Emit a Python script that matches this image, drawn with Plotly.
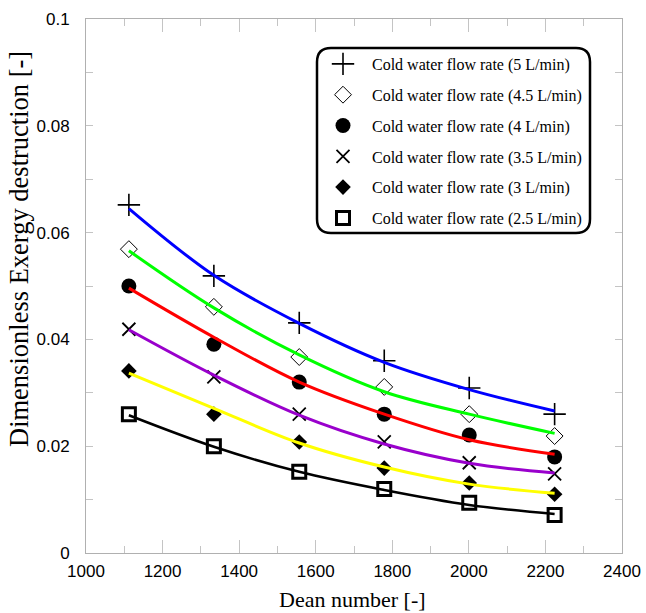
import plotly.graph_objects as go

# ---- data ----
dean = [1112, 1334, 1557, 1779, 2001, 2224]

labels = [
    "Cold water flow rate (5 L/min)",
    "Cold water flow rate (4.5 L/min)",
    "Cold water flow rate (4 L/min)",
    "Cold water flow rate (3.5 L/min)",
    "Cold water flow rate (3 L/min)",
    "Cold water flow rate (2.5 L/min)",
]

q5_0 = [0.0652, 0.0519, 0.0431, 0.0360, 0.0309, 0.0260]
q4_5 = [0.0569, 0.0461, 0.0367, 0.0311, 0.0260, 0.0219]
q4_0 = [0.0500, 0.0391, 0.0320, 0.0260, 0.0221, 0.0180]
q3_5 = [0.0419, 0.0330, 0.0260, 0.0208, 0.0169, 0.0148]
q3_0 = [0.0341, 0.0260, 0.0208, 0.0159, 0.0131, 0.0110]
q2_5 = [0.0260, 0.0200, 0.0152, 0.0120, 0.0094, 0.0071]

# fitted trend curves (values at the same Dean numbers)
fit5_0 = [0.0645, 0.0520, 0.0430, 0.0357, 0.0306, 0.0266]
fit4_5 = [0.0566, 0.0459, 0.0371, 0.0302, 0.0260, 0.0224]
fit4_0 = [0.0496, 0.0404, 0.0320, 0.0260, 0.0212, 0.0185]
fit3_5 = [0.0418, 0.0333, 0.0258, 0.0204, 0.0168, 0.0150]
fit3_0 = [0.0337, 0.0271, 0.0206, 0.0161, 0.0129, 0.0112]
fit2_5 = [0.0258, 0.0199, 0.0152, 0.0118, 0.0090, 0.0073]

x_ticks = [1000, 1200, 1400, 1600, 1800, 2000, 2200, 2400]
y_ticks = [0, 0.02, 0.04, 0.06, 0.08, 0.1]
y_ticktext = ["0", "0.02", "0.04", "0.06", "0.08", "0.1"]

series = [q5_0, q4_5, q4_0, q3_5, q3_0, q2_5]
fits = [fit5_0, fit4_5, fit4_0, fit3_5, fit3_0, fit2_5]
line_colors = ["#0000FF", "#00FF00", "#FF0000", "#9900CC", "#FFFF00", "#000000"]
line_widths = [3, 3, 3, 3, 3, 2.5]
markers = [
    dict(symbol="cross-thin", size=16, color="black", line=dict(width=1.6, color="black")),
    dict(symbol="diamond-open", size=13, color="black", line=dict(width=1, color="black")),
    dict(symbol="circle", size=15, color="black", line=dict(width=0)),
    dict(symbol="x-thin", size=13, color="black", line=dict(width=1.8, color="black")),
    dict(symbol="diamond", size=12, color="black", line=dict(width=0)),
    dict(symbol="square-open", size=13, color="black", line=dict(width=3, color="black")),
]

fig = go.Figure()

for i in range(6):
    fig.add_trace(go.Scatter(
        x=dean, y=series[i], mode="markers", name=labels[i],
        marker=markers[i], legendgroup=f"g{i}", showlegend=True,
    ))

for i in range(6):
    fig.add_trace(go.Scatter(
        x=dean, y=fits[i], mode="lines",
        line=dict(color=line_colors[i], width=line_widths[i], shape="spline", smoothing=1.0),
        showlegend=False, hoverinfo="skip",
    ))

tick_col = "#C4C4C4"
axis_col = "#B0B0B0"

fig.update_xaxes(
    range=[1000, 2400], tickvals=x_ticks, ticks="inside", ticklen=13, tickcolor=tick_col, tickwidth=1,
    minor=dict(dtick=100, tick0=1000, ticks="inside", ticklen=7, tickcolor=tick_col),
    showline=True, linecolor=axis_col, linewidth=1, mirror="ticks", showgrid=False, zeroline=False,
    automargin=False, ticklabelstandoff=3,
    tickfont=dict(family="Liberation Sans, Arial, sans-serif", size=17, color="black"),
)
fig.update_yaxes(
    range=[0, 0.1], tickvals=y_ticks, ticktext=y_ticktext, ticks="inside", ticklen=3, tickcolor=tick_col, tickwidth=1,
    minor=dict(dtick=0.01, tick0=0, ticks="inside", ticklen=7, tickcolor=tick_col),
    showline=True, linecolor=axis_col, linewidth=1, mirror="ticks", showgrid=False, zeroline=False,
    automargin=False, ticklabelstandoff=12,
    tickfont=dict(family="Liberation Sans, Arial, sans-serif", size=17, color="black"),
)

# rounded legend frame (paper coordinates; plot area is 536 x 534 px)
PW, PH = 536, 534
x0, x1 = (317 - 86) / PW, (590 - 86) / PW
y1, y0 = (553 - 48) / PH, (553 - 233) / PH
rx, ry = 14 / PW, 14 / PH
path = (f"M {x0+rx},{y1} L {x1-rx},{y1} Q {x1},{y1} {x1},{y1-ry} "
        f"L {x1},{y0+ry} Q {x1},{y0} {x1-rx},{y0} "
        f"L {x0+rx},{y0} Q {x0},{y0} {x0},{y0+ry} "
        f"L {x0},{y1-ry} Q {x0},{y1} {x0+rx},{y1} Z")
fig.add_shape(type="path", path=path, xref="paper", yref="paper",
              line=dict(color="black", width=2.5), fillcolor="white", layer="below")

fig.update_layout(
    width=646, height=613,
    margin=dict(l=86, r=24, t=19, b=60),
    paper_bgcolor="white", plot_bgcolor="white",
    showlegend=True,
    legend=dict(
        x=(314 - 86) / PW, y=(553 - 47) / PH, xanchor="left", yanchor="top",
        bgcolor="rgba(0,0,0,0)", borderwidth=0, tracegroupgap=7, itemwidth=48,
        font=dict(family="Liberation Serif, Times New Roman, serif", size=16, color="black"),
    ),
    annotations=[
        dict(text="Dean number [-]", xref="paper", yref="paper", x=0.497, y=-0.087,
             xanchor="center", yanchor="middle", showarrow=False,
             font=dict(family="Liberation Serif, Times New Roman, serif", size=22, color="black")),
        dict(text="Dimensionless Exergy destruction [-]", xref="paper", yref="paper",
             x=(19 - 86) / PW, y=(553 - 249) / PH, textangle=-90,
             xanchor="center", yanchor="middle", showarrow=False,
             font=dict(family="Liberation Serif, Times New Roman, serif", size=26.5, color="black")),
    ],
)

# remove the default 8px page margin so the figure fills the 646x613 window exactly
fig.write_html("out.html", config={"displayModeBar": False},
               post_script="document.body.style.margin='0px';")
